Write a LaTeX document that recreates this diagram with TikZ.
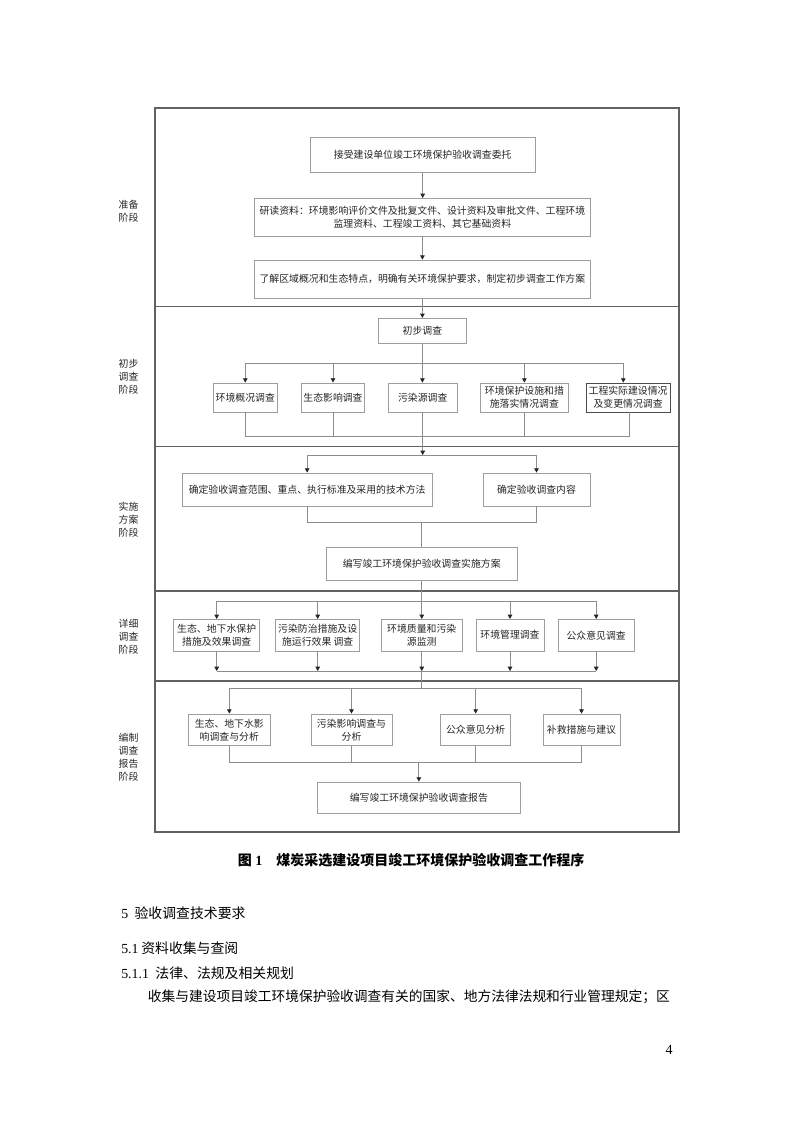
\documentclass[tikz,border=0pt]{standalone}
\usepackage{fontspec}
\setmainfont{Liberation Serif}
\newfontfamily\cjk{Noto Sans CJK SC}
\usetikzlibrary{arrows.meta}
\begin{document}
\begin{tikzpicture}[x=0.75pt,y=-0.75pt]
\tikzset{
 box/.style={draw=black!38, line width=0.6pt, fill=white, inner sep=0pt, align=center, text=black!85, font=\cjk\fontsize{7.4}{9.6}\selectfont},
 bx/.style n args={2}{minimum width=#1*0.75pt, minimum height=#2*0.75pt},
 conn/.style={draw=black!45, line width=0.6pt},
 arr/.style={-{Triangle[length=3.2pt,width=3.4pt,color=black!85]}},
 frame/.style={draw=black!62, line width=1.3pt},
 stage/.style={align=center, text=black!85, font=\cjk\fontsize{7.4}{9.75}\selectfont},
 body/.style={text=black, inner sep=0pt},
}
\fill[white] (0,0) rectangle (794,1123);
\useasboundingbox (0,0) rectangle (794,1123);

% frame and stage separators
\draw[frame] (155,108) rectangle (679,832);
\draw[frame] (155,306.5) -- (679,306.5);
\draw[frame] (155,446.5) -- (679,446.5);
\draw[frame] (155,591) -- (679,591);
\draw[frame] (155,681) -- (679,681);

% stage labels
\node[stage] (l1) at (128.5,211.5) {准备\\阶段};
\node[stage] (l2) at (128.5,377) {初步\\调查\\阶段};
\node[stage] (l3) at (128.5,520) {实施\\方案\\阶段};
\node[stage] (l4) at (128.5,637) {详细\\调查\\阶段};
\node[stage] (l5) at (128.5,757) {编制\\调查\\报告\\阶段};

% stage 1
\node[box,bx={225.4}{35}] (b1) at (422.7,154.8) {接受建设单位竣工环境保护验收调查委托};
\node[box,bx={336.8}{37.7}] (b2) at (422.4,217.2) {研读资料：环境影响评价文件及批复文件、设计资料及审批文件、工程环境\\监理资料、工程竣工资料、其它基础资料};
\node[box,bx={336.8}{38.3}] (b3) at (422.4,279.2) {了解区域概况和生态特点，明确有关环境保护要求，制定初步调查工作方案};

% stage 2
\node[box,bx={87.2}{25}] (c0) at (422.4,330.8) {初步调查};
\node[box,bx={64.6}{29}] (pa) at (245.3,397.5) {环境概况调查};
\node[box,bx={63.4}{29}] (pb) at (333,397.5) {生态影响调查};
\node[box,bx={68.6}{29}] (pc) at (422.7,397.5) {污染源调查};
\node[box,bx={87.2}{29}] (pd) at (524.4,397.5) {环境保护设施和措\\施落实情况调查};
\node[box,bx={84.4}{29},draw=black!70] (pe) at (628.1,397.5) {工程实际建设情况\\及变更情况调查};

% stage 3
\node[box,bx={250.3}{33}] (sf) at (307.15,489.5) {确定验收调查范围、重点、执行标准及采用的技术方法};
\node[box,bx={107}{33}] (sg) at (536.5,489.5) {确定验收调查内容};
\node[box,bx={191.5}{33.7}] (sh) at (421.75,563.85) {编写竣工环境保护验收调查实施方案};

% stage 4
\node[box,bx={86}{31.7}] (x1) at (216.7,635.2) {生态、地下水保护\\措施及效果调查};
\node[box,bx={84}{31.7}] (x2) at (317.7,635.2) {污染防治措施及设\\施运行效果 调查};
\node[box,bx={80.5}{31.7}] (x3) at (421.75,635.2) {环境质量和污染\\源监测};
\node[box,bx={68}{31.7}] (x4) at (510,635.2) {环境管理调查};
\node[box,bx={75.6}{31.7}] (x5) at (596.2,635.2) {公众意见调查};

% stage 5
\node[box,bx={81.4}{31.7}] (r1) at (229.3,729.85) {生态、地下水影\\响调查与分析};
\node[box,bx={81}{31.7}] (r2) at (351.5,729.85) {污染影响调查与\\分析};
\node[box,bx={69.9}{31.7}] (r3) at (475.65,729.85) {公众意见分析};
\node[box,bx={77}{31.7}] (r4) at (581.5,729.85) {补救措施与建议};
\node[box,bx={202.3}{31}] (rf) at (418.85,797.5) {编写竣工环境保护验收调查报告};

% connectors stage 1
\draw[conn,arr] (b1.south) -- (b1.south |- b2.north);
\draw[conn,arr] (b2.south) -- (b2.south |- b3.north);
\draw[conn,arr] (b3.south) -- (b3.south |- c0.north);

% connectors stage 2
\coordinate (bl) at (245.3,363.3);
\coordinate (br) at (623.3,363.3);
\draw[conn] (bl) -- (br);
\draw[conn,arr] (c0.south) -- (c0.south |- pc.north);
\draw[conn,arr] (bl) -- (bl |- pa.north);
\draw[conn,arr] (pb.north |- bl) -- (pb.north);
\draw[conn,arr] (pd.north |- bl) -- (pd.north);
\draw[conn,arr] (br) -- (br |- pe.north);
\coordinate (ml) at (245.3,436.7);
\coordinate (mr) at (629,436.7);
\draw[conn] (pa.south) -- (ml) -- (mr) -- (mr |- pe.south);
\draw[conn] (pb.south) -- (pb.south |- ml);
\draw[conn] (pd.south) -- (pd.south |- ml);

% connectors stage 3
\coordinate (sl) at (307.15,455);
\coordinate (sr) at (536.5,455);
\draw[conn,arr] (pc.south) -- (pc.south |- sl);
\draw[conn] (sl) -- (sr);
\draw[conn,arr] (sl) -- (sf.north);
\draw[conn,arr] (sr) -- (sg.north);
\coordinate (sml) at (307.15,522.7);
\coordinate (smr) at (536.5,522.7);
\draw[conn] (sf.south) -- (sml) -- (smr) -- (sg.south);
\draw[conn] (sh.north |- sml) -- (sh.north);

% connectors stage 4
\coordinate (xl) at (216.7,601);
\coordinate (xr) at (596.2,601);
\draw[conn] (xl) -- (xr);
\draw[conn,arr] (sh.south) -- (sh.south |- x3.north);
\draw[conn,arr] (xl) -- (x1.north);
\draw[conn,arr] (x2.north |- xl) -- (x2.north);
\draw[conn,arr] (x4.north |- xl) -- (x4.north);
\draw[conn,arr] (xr) -- (x5.north);
\coordinate (xbl) at (216.7,671);
\coordinate (xbr) at (596.2,671);
\draw[conn] (xbl) -- (xbr);
\draw[conn,arr] (x1.south) -- (xbl);
\draw[conn,arr] (x2.south) -- (x2.south |- xbl);
\draw[conn,arr] (x3.south) -- (x3.south |- xbl);
\draw[conn,arr] (x4.south) -- (x4.south |- xbl);
\draw[conn,arr] (x5.south) -- (xbr);

% connectors stage 5
\coordinate (tl) at (229.3,688.3);
\coordinate (tr) at (581.5,688.3);
\draw[conn] (x3.south |- xbl) -- (x3.south |- tl);
\draw[conn] (tl) -- (tr);
\draw[conn,arr] (tl) -- (r1.north);
\draw[conn,arr] (r2.north |- tl) -- (r2.north);
\draw[conn,arr] (r3.north |- tl) -- (r3.north);
\draw[conn,arr] (tr) -- (r4.north);
\coordinate (ul) at (229.3,762);
\coordinate (ur) at (581.5,762);
\draw[conn] (r1.south) -- (ul) -- (ur) -- (r4.south);
\draw[conn] (r2.south) -- (r2.south |- ul);
\draw[conn] (r3.south) -- (r3.south |- ul);
\draw[conn,arr] (rf.north |- ul) -- (rf.north);

% caption and body text
\node[body,anchor=west,font=\fontsize{10.5}{12}\selectfont\bfseries] (cap) at (237.5,860) {{\cjk 图}~1\quad{\cjk 煤炭采选建设项目竣工环境保护验收调查工作程序}};
\node[body,anchor=west,font=\fontsize{10.4}{12}\selectfont] (h1) at (121,913) {5\hspace{4.8pt}{\cjk 验收调查技术要求}};
\node[body,anchor=west,font=\fontsize{10.4}{12}\selectfont] (h2) at (121,948) {5.1\hspace{2pt}{\cjk 资料收集与查阅}};
\node[body,anchor=west,font=\fontsize{10.4}{12}\selectfont] (h3) at (121,973) {5.1.1\hspace{4.8pt}{\cjk 法律、法规及相关规划}};
\node[body,anchor=west,font=\cjk\fontsize{10.3}{12}\selectfont] (p1) at (147.7,997) {收集与建设项目竣工环境保护验收调查有关的国家、地方法律法规和行业管理规定；区};
\node[body,font=\fontsize{10.5}{12}\selectfont] (pg) at (669,1050) {4};
\end{tikzpicture}
\end{document}
